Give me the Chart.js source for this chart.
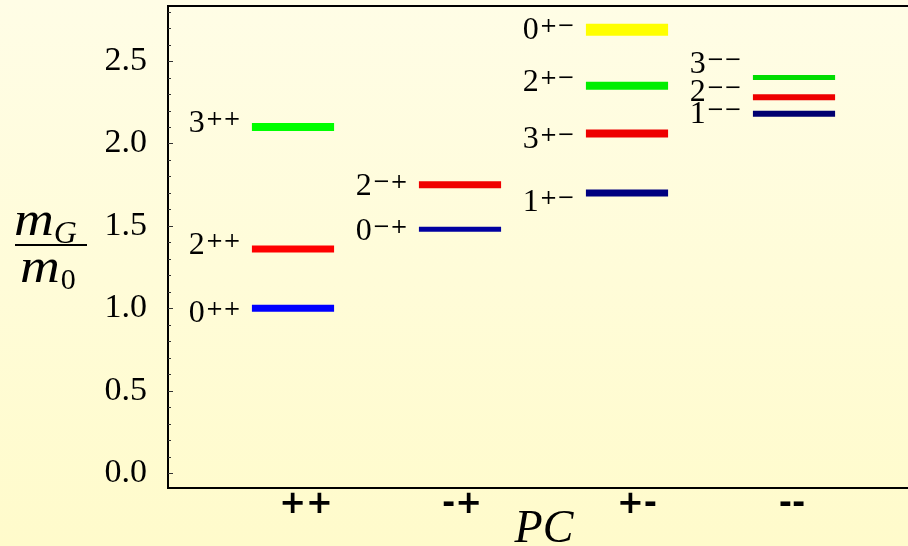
<!DOCTYPE html>
<html>
<head>
<meta charset="utf-8">
<script src="https://cdn.jsdelivr.net/npm/chart.js@4/dist/chart.umd.min.js"></script>
<style>
  html, body { margin: 0; padding: 0; }
  body { background: linear-gradient(#fffde6, #fffbcb); width: 908px; height: 546px; }
  #wrap { width: 908px; height: 546px; }
</style>
</head>
<body>
<div id="wrap"><canvas id="spectrum"></canvas></div>
<script>
// glueball levels: spin, PC sector, mass in units of m0
const categories = ['++', '-+', '+-', '--'];
const spins   = ['0', '2', '3', '0', '2', '0', '2', '3', '1', '3', '2', '1'];
const pcIndex = [0, 0, 0, 1, 1, 2, 2, 2, 2, 3, 3, 3];
const masses  = [1.00, 1.36, 2.10, 1.48, 1.75, 2.69, 2.35, 2.06, 1.70, 2.40, 2.28, 2.18];
const yTicks  = [0.0, 0.5, 1.0, 1.5, 2.0, 2.5];

// look of each level
const colors = ['#0000ff', '#ff0000', '#00ff00', '#0000a0', '#f00000', '#ffff00',
                '#00ee00', '#ee0000', '#000080', '#00dd00', '#ee0000', '#000070'];
const widths = [7, 7, 8, 5, 7, 12, 8, 8, 7, 5, 6, 6];
const labelDy = [3, -5, -5, 0, 0, -1, -5, 4, 8, -15, -7, -1];
const catDx = [13, 2, 10, -2];
const halfWidth = 0.246;

const datasets = masses.map((m, i) => ({
    data: [{x: pcIndex[i] + 1 - halfWidth, y: m}, {x: pcIndex[i] + 1 + halfWidth, y: m}],
    showLine: true,
    borderColor: colors[i],
    backgroundColor: colors[i],
    borderWidth: widths[i],
    borderCapStyle: 'butt',
    pointRadius: 0,
    fill: false
}));

const SERIF = '"Liberation Serif", "Times New Roman", serif';

function supText(pc) {
    return pc.replace(/-/g, '\u2212');
}

// italic m, stretched a little to look like a math italic
function drawM(ctx, x, y) {
    ctx.save();
    ctx.font = 'italic 48px ' + SERIF;
    ctx.translate(x, y);
    ctx.scale(1.15, 1);
    ctx.fillText('m', 0, 0);
    const w = ctx.measureText('m').width * 1.15;
    ctx.restore();
    return w;
}

const decorations = {
    id: 'decorations',
    afterDraw(chart) {
        const {ctx, chartArea: area, scales: {x, y}} = chart;
        ctx.save();

        // frame line along the top
        ctx.strokeStyle = '#000';
        ctx.lineWidth = 2;
        ctx.beginPath();
        ctx.moveTo(area.left - 1, area.top);
        ctx.lineTo(chart.width, area.top);
        ctx.stroke();

        // inner tick marks on the y axis
        ctx.lineWidth = 1;
        ctx.strokeStyle = '#333';
        y.ticks.forEach((t) => {
            const py = Math.round(y.getPixelForValue(t.value)) + 0.5;
            const major = t.label !== '';
            ctx.beginPath();
            ctx.moveTo(area.left, py);
            ctx.lineTo(area.left + (major ? 5 : 3), py);
            ctx.stroke();
        });

        // state labels J^{PC}
        ctx.fillStyle = '#000';
        ctx.textBaseline = 'alphabetic';
        masses.forEach((m, i) => {
            const left = x.getPixelForValue(pcIndex[i] + 1 - halfWidth) - 11;
            const base = y.getPixelForValue(m) + labelDy[i] + 10.5;
            const sup = supText(categories[pcIndex[i]]);
            ctx.font = '32px ' + SERIF;
            const dw = ctx.measureText(spins[i]).width;
            ctx.font = '21px "DejaVu Serif", serif';
            const sw = ctx.measureText(sup).width;
            const x0 = left - dw - sw - 1;
            ctx.font = '32px ' + SERIF;
            ctx.fillText(spins[i], x0, base);
            ctx.font = '21px "DejaVu Serif", serif';
            ctx.fillText(sup, x0 + dw + 1, base - 7);
        });

        // PC sector names under the axis
        ctx.font = 'bold 32px "DejaVu Sans", sans-serif';
        ctx.textAlign = 'center';
        ctx.textBaseline = 'alphabetic';
        categories.forEach((c, i) => {
            ctx.fillText(c, x.getPixelForValue(i + 1) + catDx[i], 513);
        });

        // axis titles
        ctx.font = 'italic 46px ' + SERIF;
        ctx.fillText('PC', (area.left + area.right) / 2 + 6, 542);

        ctx.textAlign = 'left';
        let mw = drawM(ctx, 14, 235);
        ctx.font = 'italic 32px ' + SERIF;
        ctx.fillText('G', 14 + mw, 243);
        mw = drawM(ctx, 20, 282);
        ctx.font = '30px ' + SERIF;
        ctx.fillText('0', 20 + mw + 1, 289);
        ctx.lineWidth = 2;
        ctx.strokeStyle = '#000';
        ctx.beginPath();
        ctx.moveTo(15, 245);
        ctx.lineTo(87, 245);
        ctx.stroke();

        ctx.restore();
    }
};

new Chart(document.getElementById('spectrum'), {
    type: 'scatter',
    data: {datasets: datasets},
    options: {
        responsive: true,
        maintainAspectRatio: false,
        animation: false,
        layout: {padding: {top: 6, right: 0, left: 0, bottom: 0}},
        plugins: {
            legend: {display: false},
            tooltip: {enabled: false}
        },
        scales: {
            x: {
                type: 'linear',
                min: 0.2515,
                max: 4.6826,
                grid: {display: false},
                border: {display: true, color: '#000', width: 2},
                ticks: {display: false},
                afterFit: (scale) => {
                    scale.height = 58;
                    scale.paddingLeft = 0;
                    scale.paddingRight = 0;
                }
            },
            y: {
                type: 'linear',
                min: -0.09,
                max: 2.834,
                grid: {display: false, drawTicks: false},
                border: {display: true, color: '#000', width: 2},
                afterBuildTicks: (scale) => {
                    const t = [];
                    for (let k = 0; k <= 28; k++) t.push({value: k / 10});
                    scale.ticks = t;
                },
                ticks: {
                    autoSkip: false,
                    padding: 21,
                    color: '#000',
                    font: {family: SERIF, size: 34},
                    callback: (v) => yTicks.some(t => Math.abs(t - v) < 1e-6) ? v.toFixed(1) : ''
                },
                afterFit: (scale) => {
                    scale.width = 168;
                    scale.paddingTop = 0;
                    scale.paddingBottom = 0;
                }
            }
        }
    },
    plugins: [decorations]
});
</script>
</body>
</html>
